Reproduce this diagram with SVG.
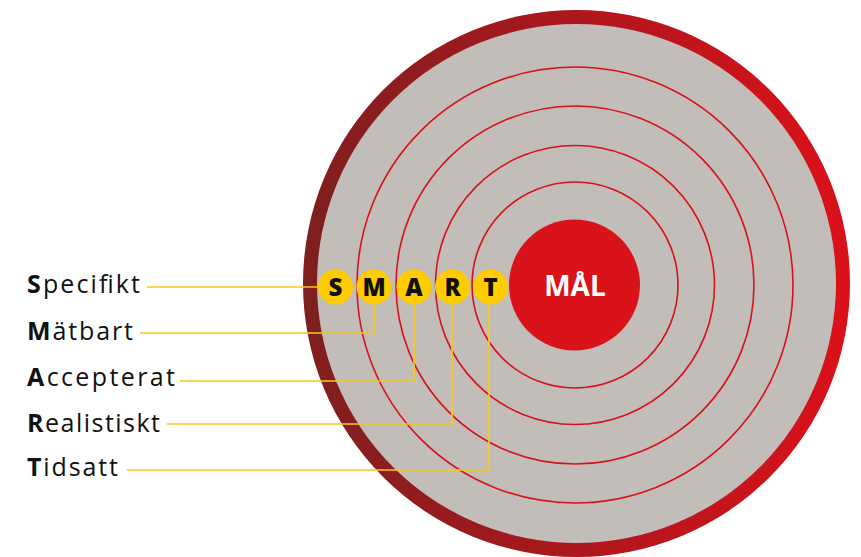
<svg xmlns="http://www.w3.org/2000/svg" width="861" height="557" viewBox="0 0 861 557">
  <style>
    .ring { fill: none; stroke: #d8121b; stroke-width: 1.6; }
    .lead { fill: none; stroke: #f7c81c; stroke-width: 1.7; }
    .dot { fill: #ffcc00; }
    .letter { font-family: "Open Sans", "Liberation Sans", sans-serif; font-weight: 800; font-size: 24px; fill: #111; text-anchor: middle; }
    .label { font-family: "Open Sans", "Liberation Sans", sans-serif; font-size: 25px; fill: #111; }
    .label tspan.init { font-weight: 700; }
    .goal { font-family: "Open Sans", "Liberation Sans", sans-serif; font-weight: 700; font-size: 28px; fill: #fff; text-anchor: middle; }
  </style>
  <defs>
    <linearGradient id="rimGrad" x1="0" y1="0" x2="1" y2="0">
      <stop offset="0" stop-color="#7e1f1f"/>
      <stop offset="0.5" stop-color="#ad171c"/>
      <stop offset="1" stop-color="#dc111a"/>
    </linearGradient>
  </defs>

  <!-- target disc -->
  <g id="target">
    <circle cx="576.5" cy="283.5" r="273.5" fill="url(#rimGrad)"/>
    <circle cx="576.5" cy="283.5" r="259.5" fill="#c2bdb9"/>
    <circle class="ring" cx="575" cy="285" r="218"/>
    <circle class="ring" cx="575" cy="285" r="179"/>
    <circle class="ring" cx="575" cy="285" r="139.5"/>
    <circle class="ring" cx="575" cy="285" r="103"/>
  </g>

  <!-- leader lines from labels to letters -->
  <g id="connectors">
    <polyline class="lead" points="147,287 335,287"/>
    <polyline class="lead" points="140,333 374,333 374,290"/>
    <polyline class="lead" points="180,381 414,381 414,290"/>
    <polyline class="lead" points="167,424 452,424 452,290"/>
    <polyline class="lead" points="127,470 489,470 489,290"/>
  </g>

  <g id="goal">
    <circle cx="574.5" cy="285" r="65.5" fill="#da1219"/>
    <text class="goal" x="575" y="296">MÅL</text>
  </g>

  <g id="letter-s"><circle class="dot" cx="335.5" cy="287" r="17.5"/><text class="letter" x="335.5" y="295.5">S</text></g>
  <g id="letter-m"><circle class="dot" cx="374" cy="287" r="17.5"/><text class="letter" x="374" y="295.5">M</text></g>
  <g id="letter-a"><circle class="dot" cx="414" cy="287" r="17.5"/><text class="letter" x="414" y="295.5">A</text></g>
  <g id="letter-r"><circle class="dot" cx="452.5" cy="287" r="17.5"/><text class="letter" x="452.5" y="295.5">R</text></g>
  <g id="letter-t"><circle class="dot" cx="490.5" cy="287" r="17.5"/><text class="letter" x="490.5" y="295.5">T</text></g>

  <g id="label-s"><text class="label" x="27" y="293" textLength="113" lengthAdjust="spacing"><tspan class="init">S</tspan>pecifikt</text></g>
  <g id="label-m"><text class="label" x="27" y="340" textLength="106" lengthAdjust="spacing"><tspan class="init">M</tspan>ätbart</text></g>
  <g id="label-a"><text class="label" x="27" y="386" textLength="148" lengthAdjust="spacing"><tspan class="init">A</tspan>ccepterat</text></g>
  <g id="label-r"><text class="label" x="27" y="432" textLength="133" lengthAdjust="spacing"><tspan class="init">R</tspan>ealistiskt</text></g>
  <g id="label-t"><text class="label" x="27" y="476" textLength="91" lengthAdjust="spacing"><tspan class="init">T</tspan>idsatt</text></g>
</svg>
